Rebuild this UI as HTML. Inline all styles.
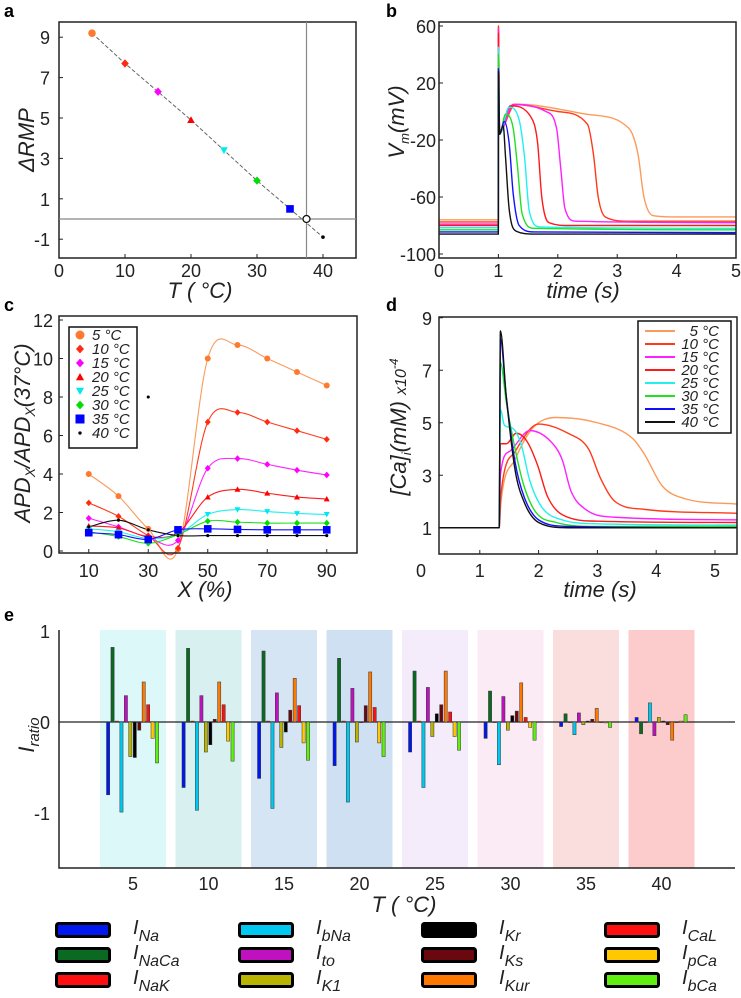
<!DOCTYPE html>
<html><head><meta charset="utf-8"><style>
html,body{margin:0;padding:0;background:#fff}
svg{display:block;font-family:"Liberation Sans",sans-serif}
.tk{font-size:18px;fill:#222}
.tt{font-size:22px;font-style:italic;fill:#222}
.pl{font-size:18px;font-weight:bold;fill:#000}
.lg{font-size:15px;font-style:italic;fill:#222}
</style></head><body>
<svg id="fig" width="741" height="998" viewBox="0 0 741 998">
<text class="pl" x="4" y="17">a</text>
<text class="pl" x="386" y="17">b</text>
<text class="pl" x="4" y="311">c</text>
<text class="pl" x="386" y="311">d</text>
<text class="pl" x="4" y="621">e</text>
<g id="pa"></g>
<g id="pb"></g>
<g id="pc"></g>
<g id="pd"></g>
<g id="pe"></g>
<text class="tt" transform="translate(34,140) rotate(-90)" text-anchor="middle">ΔRMP</text>
<text class="tt" x="200" y="298" text-anchor="middle">T ( °C)</text>
<text class="tt" transform="translate(404,122) rotate(-90)" text-anchor="middle">V<tspan font-size="13" dy="5">m</tspan><tspan dy="-5">(mV)</tspan></text>
<text class="tt" x="583" y="298" text-anchor="middle">time (s)</text>
<text class="tt" transform="translate(30,433) rotate(-90)" text-anchor="middle">APD<tspan font-size="14" dy="5">X</tspan><tspan dy="-5">/APD</tspan><tspan font-size="14" dy="5">X</tspan><tspan dy="-5">(37°C)</tspan></text>
<text class="tt" x="205" y="597" text-anchor="middle">X (%)</text>
<text class="tt" transform="translate(406,427) rotate(-90)" text-anchor="middle">[Ca]<tspan font-size="13" dy="5">i</tspan><tspan dy="-5">(mM) </tspan><tspan font-size="16">x10</tspan><tspan font-size="12" dy="-8">-4</tspan></text>
<text class="tt" x="600" y="597" text-anchor="middle">time (s)</text>
<text class="tt" transform="translate(34,735) rotate(-90)" text-anchor="middle">I<tspan font-size="15" dy="5">ratio</tspan></text>
<text class="tt" x="404" y="912" text-anchor="middle">T ( °C)</text>
</svg>
<script>
// ---------- data ----------
const temps = [5,10,15,20,25,30,35,40];
const tempColors = ['#ff7a30','#ff2a10','#ff00ff','#ff0000','#00e8f0','#00dd00','#0000ff','#000000'];
const lineColors = ['#fb9a5a','#ff3a1a','#ff20ff','#ff1a1a','#20f0f0','#20e020','#1010ff','#111111'];
const markers = ['circle','diamond','diamond','triangle','tridown','diamond','square','star'];
// panel a
const rmpTemps = [5,10,15,20,25,30,35,40];
const rmpValues = [9.2,7.7,6.3,4.9,3.4,1.9,0.5,-0.9];
const refTemp = 37.5;
// panel b: action potentials (time s, voltage mV)
const apT = [
 [0,0.999,1.0,1.02,1.15,1.35,2.5,3.2,3.35,3.45,3.6,4.0,5],
 [0,0.999,1.0,1.02,1.28,2.0,2.5,2.6,2.68,2.8,3.2,5],
 [0,0.999,1.0,1.02,1.25,1.8,1.98,2.05,2.12,2.3,5],
 [0,0.999,1.0,1.02,1.2,1.55,1.66,1.73,1.85,2.2,5],
 [0,0.999,1.0,1.02,1.18,1.35,1.44,1.52,1.7,5],
 [0,0.999,1.0,1.02,1.12,1.25,1.32,1.4,1.6,5],
 [0,0.999,1.0,1.02,1.1,1.18,1.25,1.35,1.6,5],
 [0,0.999,1.0,1.02,1.08,1.12,1.18,1.3,1.6,5]];
const apV = [
 [-76,-76,60,-14,0,5,-2,-12,-30,-60,-73,-74,-74],
 [-77.5,-77.5,60,-14,5,0,-9,-30,-60,-74,-77,-77],
 [-79,-79,58,-15,5,0,-12,-40,-68,-77,-78],
 [-80,-80,55,-15,4,-4,-22,-60,-78,-80,-80],
 [-81.5,-81.5,45,-16,3,-6,-32,-70,-81,-82],
 [-83,-83,40,-16,-2,-12,-38,-72,-82,-83],
 [-84.5,-84.5,30,-16,-7,-22,-58,-80,-84.5,-85],
 [-86,-86,28,-16,-10,-32,-68,-84,-86,-86]];
// panel c
const apdX = [10,20,30,40,50,60,70,80,90];
const apdRatio = [
 [4.0,2.85,1.15,0.1,10.0,10.7,10.0,9.3,8.6],
 [2.5,1.8,0.8,0.15,6.7,7.2,6.7,6.25,5.8],
 [1.7,1.25,0.7,0.55,4.3,4.8,4.5,4.2,3.95],
 [1.3,1.2,0.75,0.95,2.8,3.2,3.0,2.8,2.7],
 [1.15,1.0,0.65,0.85,1.9,2.15,2.05,1.95,1.9],
 [1.0,0.75,0.4,0.85,1.55,1.5,1.45,1.45,1.45],
 [0.95,0.85,0.6,1.1,1.15,1.12,1.1,1.1,1.1],
 [1.25,1.6,1.1,0.8,0.8,0.8,0.8,0.8,0.8]];
const strayPoint = [30,8.0];
// panel d: calcium transients (time s, [Ca] x1e-4 mM)
const caT = [
 [0.3,1.33,1.36,1.6,1.9,2.3,3.0,3.6,3.8,4.1,4.5,5.37],
 [0.3,1.33,1.36,1.6,2.0,2.5,2.85,3.05,3.3,3.8,5.37],
 [0.3,1.33,1.35,1.5,1.85,2.2,2.4,2.55,2.8,3.3,5.37],
 [0.3,1.33,1.35,1.45,1.62,1.8,1.98,2.15,2.4,3.0,5.37],
 [0.3,1.33,1.35,1.42,1.55,1.7,1.85,2.05,2.4,3.0,5.37],
 [0.3,1.33,1.35,1.45,1.6,1.75,1.95,2.3,3.0,5.37],
 [0.3,1.33,1.35,1.45,1.6,1.75,2.0,2.5,5.37],
 [0.3,1.33,1.35,1.45,1.6,1.75,2.0,2.5,5.37]];
const caV = [
 [1,1,2,3.6,4.8,5.2,5.0,4.4,3.8,2.6,2.1,1.9],
 [1,1,2.3,3.9,4.95,4.6,4.0,2.9,2.0,1.7,1.55],
 [1,1,3,3.9,4.7,4.3,3.6,2.4,1.7,1.4,1.3],
 [1,1,4.2,4.2,4.6,4.3,3.4,2.2,1.5,1.25,1.2],
 [1,1,5.5,4.9,4.8,4.2,2.8,1.8,1.3,1.15,1.1],
 [1,1,7.3,5.8,4.0,2.6,1.6,1.2,1.05,1.05],
 [1,1,8.2,6.0,3.5,2.2,1.3,1.05,1.0],
 [1,1,8.5,6.0,3.2,2.0,1.2,1.0,1.0]];
// panel e: current ratios
const currents = ['Na','NaCa','NaK','bNa','to','K1','Kr','Ks','Kur','CaL','pCa','bCa'];
const currentColors = ['#0018ee','#0b6a22','#ff1010','#00c8f0','#c010c0','#b8b400','#000000','#6a0810','#ff7800','#ff1010','#ffc800','#60f010'];
const groupTemps = [5,10,15,20,25,30,35,40];
const groupColors = ['#dcf8f8','#d8f0f0','#d5e5f3','#cfe0f3','#f5ecfb','#fbebf4','#fadddd','#fccbcc'];
const ratio5  = [-0.80,0.82,0.01,-0.99,0.29,-0.38,-0.39,-0.09,0.44,0.19,-0.18,-0.45];
const ratio10 = [-0.72,0.81,0.01,-0.97,0.29,-0.33,-0.25,0.03,0.44,0.19,-0.21,-0.43];
const ratio15 = [-0.62,0.78,0.01,-0.95,0.32,-0.28,-0.11,0.13,0.48,0.18,-0.23,-0.42];
const ratio20 = [-0.48,0.70,0.01,-0.88,0.37,-0.22,0.0,0.18,0.55,0.16,-0.23,-0.38];
const ratio25 = [-0.33,0.56,0.01,-0.72,0.38,-0.16,0.09,0.19,0.56,0.11,-0.16,-0.31];
const ratio30 = [-0.18,0.34,0.0,-0.47,0.28,-0.09,0.07,0.12,0.43,0.05,-0.06,-0.20];
const ratio35 = [-0.05,0.09,0.0,-0.14,0.10,-0.03,0.01,0.03,0.15,0.0,-0.01,-0.06];
const ratio40 = [0.05,-0.13,0.0,0.21,-0.15,0.05,0.01,-0.03,-0.20,0.0,0.01,0.08];
const ratios = [ratio5,ratio10,ratio15,ratio20,ratio25,ratio30,ratio35,ratio40];

// ---------- helpers ----------
const NS='http://www.w3.org/2000/svg';
function mk(tag,parent){const e=document.createElementNS(NS,tag);parent.appendChild(e);return e;}
function set(e,o){for(const k in o)e.setAttribute(k,o[k]);return e;}
function monoPath(xs,ys,sx,sy){
  const n=xs.length,d=[],m=new Array(n);
  for(let i=0;i<n-1;i++)d.push((ys[i+1]-ys[i])/(xs[i+1]-xs[i]));
  m[0]=d[0];m[n-1]=d[n-2];
  for(let i=1;i<n-1;i++){m[i]=(d[i-1]*d[i]<=0)?0:(d[i-1]+d[i])/2;}
  for(let i=0;i<n-1;i++){
    if(d[i]===0){m[i]=0;m[i+1]=0;continue;}
    const a=m[i]/d[i],b=m[i+1]/d[i],s=a*a+b*b;
    if(s>9){const t=3/Math.sqrt(s);m[i]=t*a*d[i];m[i+1]=t*b*d[i];}
  }
  let p='M'+sx(xs[0]).toFixed(2)+','+sy(ys[0]).toFixed(2);
  for(let i=0;i<n-1;i++){
    const h=xs[i+1]-xs[i];
    p+='C'+sx(xs[i]+h/3).toFixed(2)+','+sy(ys[i]+m[i]*h/3).toFixed(2)+' '+
      sx(xs[i+1]-h/3).toFixed(2)+','+sy(ys[i+1]-m[i+1]*h/3).toFixed(2)+' '+
      sx(xs[i+1]).toFixed(2)+','+sy(ys[i+1]).toFixed(2);
  }
  return p;
}
function crPath(P){
  let p='M'+P[0][0]+','+P[0][1];
  for(let i=0;i<P.length-1;i++){
    const p0=P[Math.max(0,i-1)],p1=P[i],p2=P[i+1],p3=P[Math.min(P.length-1,i+2)];
    p+='C'+(p1[0]+(p2[0]-p0[0])/6)+','+(p1[1]+(p2[1]-p0[1])/6)+' '+(p2[0]-(p3[0]-p1[0])/6)+','+(p2[1]-(p3[1]-p1[1])/6)+' '+p2[0]+','+p2[1];
  }
  return p;
}
function marker(g,type,x,y,col,s){
  let e;
  if(type==='circle'){e=set(mk('circle',g),{cx:x,cy:y,r:s});}
  else if(type==='square'){e=set(mk('rect',g),{x:x-s,y:y-s,width:2*s,height:2*s});}
  else if(type==='diamond'){e=set(mk('polygon',g),{points:`${x},${y-s*1.1} ${x+s},${y} ${x},${y+s*1.1} ${x-s},${y}`});}
  else if(type==='triangle'){e=set(mk('polygon',g),{points:`${x},${y-s} ${x+s},${y+s*0.8} ${x-s},${y+s*0.8}`});}
  else if(type==='tridown'){e=set(mk('polygon',g),{points:`${x},${y+s} ${x+s},${y-s*0.8} ${x-s},${y-s*0.8}`});}
  else {e=set(mk('circle',g),{cx:x,cy:y,r:s*0.6});}
  set(e,{fill:col});
  return e;
}
function frame(g,x0,y0,x1,y1,name){
  const r=set(mk('rect',g),{x:x0,y:y0,width:x1-x0,height:y1-y0,fill:'none',stroke:'#222','stroke-width':1.5});
  
  
}
function tickLabel(g,x,y,txt,anchor,name){
  const t=set(mk('text',g),{x:x,y:y,'text-anchor':anchor,class:'tk'});
  t.textContent=txt;
  
  
}
function tick(g,x1,y1,x2,y2){
  const l=set(mk('line',g),{x1:x1,y1:y1,x2:x2,y2:y2,stroke:'#222','stroke-width':1});
  
  
}

// ---------- panel a ----------
(function(){
  const g=document.getElementById('pa');
  const xa=t=>59+t*6.6, ya=v=>219-v*20.2;
  frame(g,59,22,356,258,'panel-a-frame');
  [0,10,20,30,40].forEach(v=>{tickLabel(g,xa(v),277,String(v),'middle','panel-a-x-tick');tick(g,xa(v),258,xa(v),254);});
  [-1,1,3,5,7,9].forEach(v=>{tickLabel(g,50,ya(v)+7,String(v),'end','panel-a-y-tick');tick(g,59,ya(v),63,ya(v));});
  const vl=set(mk('line',g),{x1:xa(refTemp),y1:22,x2:xa(refTemp),y2:258,stroke:'#888','stroke-width':1.2});
  
  
  const hl=set(mk('line',g),{x1:59,y1:ya(0),x2:356,y2:ya(0),stroke:'#888','stroke-width':1.2});
  
  
  const pts=rmpTemps.map((t,i)=>xa(t)+','+ya(rmpValues[i])).join(' ');
  const pl=set(mk('polyline',g),{points:pts,fill:'none',stroke:'#666','stroke-width':1,'stroke-dasharray':'4,2'});
  
  
  rmpTemps.forEach((t,i)=>{
    const m=marker(g,markers[i],xa(t),ya(rmpValues[i]),tempColors[i],markers[i]==='star'?3:3.8);
    
    
  });
  const oc=set(mk('circle',g),{cx:xa(refTemp),cy:ya(0),r:3.5,fill:'#fff',stroke:'#111','stroke-width':1.3});
  
  
})();

// ---------- panel b ----------
(function(){
  const g=document.getElementById('pb');
  const xb=t=>439+t*59.4, yb=v=>26+(60-v)*1.425;
  [0,1,2,3,4,5].forEach(v=>{tickLabel(g,xb(v),277,String(v),'middle','panel-b-x-tick');tick(g,xb(v),258,xb(v),254);});
  [-100,-60,-20,20,60].forEach(v=>{tickLabel(g,436,yb(v)+7,String(v),'end','panel-b-y-tick');tick(g,439,yb(v),443,yb(v));});
  for(let i=0;i<apT.length;i++){
    const p=set(mk('path',g),{d:monoPath(apT[i],apV[i],xb,yb),fill:'none',stroke:lineColors[i],'stroke-width':1.4});
    
    
  }
  frame(g,439,22,736,258,'panel-b-frame');
})();

// ---------- panel c ----------
(function(){
  const g=document.getElementById('pc');
  const xc=x=>59+x*2.975, yc=v=>551-v*19.25;
  [10,30,50,70,90].forEach(v=>{tickLabel(g,xc(v),577,String(v),'middle','panel-c-x-tick');tick(g,xc(v),553,xc(v),549);});
  [0,2,4,6,8,10,12].forEach(v=>{tickLabel(g,53,yc(v)+7,String(v),'end','panel-c-y-tick');tick(g,59,yc(v),63,yc(v));});
  for(let i=0;i<apdRatio.length;i++){
    const P=apdX.map((x,j)=>[xc(x),yc(apdRatio[i][j])]);
    const p=set(mk('path',g),{d:crPath(P),fill:'none',stroke:lineColors[i],'stroke-width':1.1});
    
    
  }
  for(let i=0;i<apdRatio.length;i++){
    apdX.forEach((x,j)=>{
      const m=marker(g,markers[i],xc(x),yc(apdRatio[i][j]),tempColors[i],markers[i]==='square'?3.8:markers[i]==='star'?2.6:3);
      
      
    });
  }
  const sp=marker(g,'star',xc(strayPoint[0]),yc(strayPoint[1]),'#000',2.6);
  
  
  frame(g,59,316,357,553,'panel-c-frame');
  const lg=mk('g',g);
  
  
  set(mk('rect',lg),{x:69,y:327,width:68,height:121,fill:'#fff',stroke:'#111','stroke-width':1.5});
  temps.forEach((t,i)=>{
    const y=335+i*14;
    const m=marker(lg,markers[i],80,y,tempColors[i],markers[i]==='circle'?4.5:markers[i]==='square'?4.5:markers[i]==='star'?2.8:4);
    
    
    const tx=set(mk('text',lg),{x:92,y:y+5,class:'lg'});
    tx.textContent=t+' °C';
    
    
  });
})();

// ---------- panel d ----------
(function(){
  const g=document.getElementById('pd');
  const xd=t=>421+t*58.8, yd=v=>554-v*26.25;
  [0,1,2,3,4,5].forEach(v=>{tickLabel(g,xd(v),577,String(v),'middle','panel-d-x-tick');if(v>0)tick(g,xd(v),554,xd(v),550);});
  [1,3,5,7,9].forEach(v=>{tickLabel(g,432,yd(v)+7,String(v),'end','panel-d-y-tick');tick(g,439,yd(v),443,yd(v));});
  for(let i=0;i<caT.length;i++){
    const p=set(mk('path',g),{d:monoPath(caT[i],caV[i],xd,yd),fill:'none',stroke:lineColors[i],'stroke-width':1.4});
    
    
  }
  frame(g,439,317,737,554,'panel-d-frame');
  const lg=mk('g',g);
  
  
  set(mk('rect',lg),{x:638,y:321,width:93,height:112,fill:'#fff',stroke:'#111','stroke-width':1.5});
  temps.forEach((t,i)=>{
    const y=331+i*13;
    const l=set(mk('line',lg),{x1:645,y1:y,x2:675,y2:y,stroke:lineColors[i],'stroke-width':2});
    
    
    const tx=set(mk('text',lg),{x:719,y:y+5,'text-anchor':'end',class:'lg'});
    tx.textContent=t+' °C';
    
    
  });
})();

// ---------- panel e ----------
(function(){
  const g=document.getElementById('pe');
  const y0=722, unit=91, gx=i=>133+i*75.5;
  const ye=v=>y0-v*unit;
  groupTemps.forEach((t,i)=>{
    const r=set(mk('rect',g),{x:gx(i)-33,y:630,width:66,height:238,fill:groupColors[i]});
    
    
  });
  const zl=set(mk('line',g),{x1:59,y1:y0,x2:735,y2:y0,stroke:'#222','stroke-width':1.2});
  
  
  ratios.forEach((arr,i)=>{
    arr.forEach((v,j)=>{
      const x=gx(i)-25+j*4.45;
      const top=Math.min(ye(v),y0), h=Math.abs(ye(v)-y0);
      const b=set(mk('rect',g),{x:x-1.5,y:top,width:3.2,height:Math.max(h,0.6),fill:currentColors[j],stroke:'#333','stroke-width':0.5});
      
      
    });
  });
  const ax=set(mk('path',g),{d:'M59,630 L59,868 L735,868',fill:'none',stroke:'#222','stroke-width':1.5});
  
  
  [1,0,-1].forEach(v=>tickLabel(g,50,ye(v)+7,String(v),'end','panel-e-y-tick'));
  groupTemps.forEach((t,i)=>tickLabel(g,gx(i),890,String(t),'middle','panel-e-x-tick'));
  // legend
  const colX=[55,238,421,604];
  currents.forEach((c,j)=>{
    const col=Math.floor(j/3), row=j%3;
    const x=colX[col], y=922+row*25;
    const lg=mk('g',g);
    
    
    set(mk('rect',lg),{x:x+1.5,y:y+1.5,width:53,height:13,rx:2,fill:currentColors[j],stroke:'#000','stroke-width':3});
    const tx=set(mk('text',lg),{x:x+78,y:y+12,'font-size':'20','font-style':'italic',fill:'#222'});
    tx.textContent='I';
    const ts=set(mk('tspan',tx),{'font-size':'16',dy:'7'});
    ts.textContent=c;
  });
})();
</script>
</body></html>
